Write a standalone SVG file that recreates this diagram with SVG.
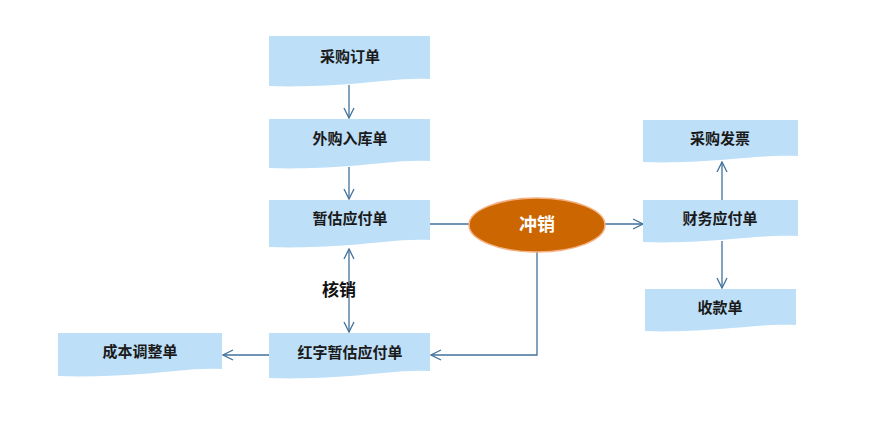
<svg xmlns="http://www.w3.org/2000/svg" width="879" height="442" viewBox="0 0 879 442">
<style>
.doc{fill:#BDDFF8;}
.lbl{font-family:"Liberation Sans","Noto Sans CJK SC",sans-serif;font-size:15px;font-weight:bold;fill:#1a1a1a;text-anchor:middle;}
.conn{fill:none;stroke:#41719C;stroke-width:1.3;}
</style>
<defs>
<marker id="ah" viewBox="0 0 12 12" refX="11" refY="6" markerWidth="12" markerHeight="12" markerUnits="userSpaceOnUse" orient="auto-start-reverse">
<path d="M1,1 L11,6 L1,11" fill="none" stroke="#41719C" stroke-width="1.3"/>
</marker>
</defs>
<rect width="879" height="442" fill="#ffffff"/>
<g id="connectors">
<line class="conn" x1="349" y1="85" x2="349" y2="118" marker-end="url(#ah)"/>
<line class="conn" x1="349" y1="167" x2="349" y2="199" marker-end="url(#ah)"/>
<line class="conn" x1="349" y1="249" x2="349" y2="332" marker-start="url(#ah)" marker-end="url(#ah)"/>
<line class="conn" x1="430" y1="224" x2="470" y2="224"/>
<line class="conn" x1="605" y1="224" x2="643" y2="224" marker-end="url(#ah)"/>
<polyline class="conn" points="537,252 537,355 431,355" marker-end="url(#ah)"/>
<line class="conn" x1="269" y1="355" x2="223" y2="355" marker-end="url(#ah)"/>
<line class="conn" x1="722" y1="200" x2="722" y2="162" marker-end="url(#ah)"/>
<line class="conn" x1="722" y1="241" x2="722" y2="288" marker-end="url(#ah)"/>
</g>
<g id="n1">
<path class="doc" d="M269,36 H430 V79 C400,78 380,82 350,84 C320,86 295,87 269,86 Z"/>
<text class="lbl" x="350" y="62">采购订单</text>
</g>
<g id="n2">
<path class="doc" d="M269,119 H430 V161 C400,160 380,164 350,166 C320,168 295,169 269,168 Z"/>
<text class="lbl" x="350" y="144">外购入库单</text>
</g>
<g id="n3">
<path class="doc" d="M269,200 H430 V240 C400,239 380,243 350,245 C320,247 295,248 269,247 Z"/>
<text class="lbl" x="350" y="224">暂估应付单</text>
</g>
<g id="n4">
<path class="doc" d="M269,333 H430 V371 C400,370 380,374 350,376 C320,378 295,379 269,378 Z"/>
<text class="lbl" x="350" y="358">红字暂估应付单</text>
</g>
<g id="n5">
<path class="doc" d="M58,333 H222 V369 C192,368 172,372 142,374 C112,376 85,377 58,376 Z"/>
<text class="lbl" x="140" y="357">成本调整单</text>
</g>
<g id="n6">
<ellipse cx="537" cy="225" rx="68" ry="27" fill="#CC6600" stroke="#F4B183" stroke-width="1.5"/>
<text x="537" y="231" text-anchor="middle" font-family="Liberation Sans,'Noto Sans CJK SC',sans-serif" font-size="18" font-weight="bold" fill="#ffffff">冲销</text>
</g>
<g id="n7">
<path class="doc" d="M643,120 H798 V156 C770,155 750,158 720,160 C690,162 668,163 643,162 Z"/>
<text class="lbl" x="720" y="144">采购发票</text>
</g>
<g id="n8">
<path class="doc" d="M643,200 H798 V236 C770,235 750,238 720,240 C690,242 668,243 643,242 Z"/>
<text class="lbl" x="720" y="224">财务应付单</text>
</g>
<g id="n9">
<path class="doc" d="M645,289 H796 V325 C768,324 748,327 720,329 C690,331 668,332 645,331 Z"/>
<text class="lbl" x="720" y="313">收款单</text>
</g>
<g id="label-hexiao">
<text x="339" y="296" text-anchor="middle" font-family="Liberation Sans,'Noto Sans CJK SC',sans-serif" font-size="17" font-weight="bold" fill="#111111">核销</text>
</g>
</svg>
